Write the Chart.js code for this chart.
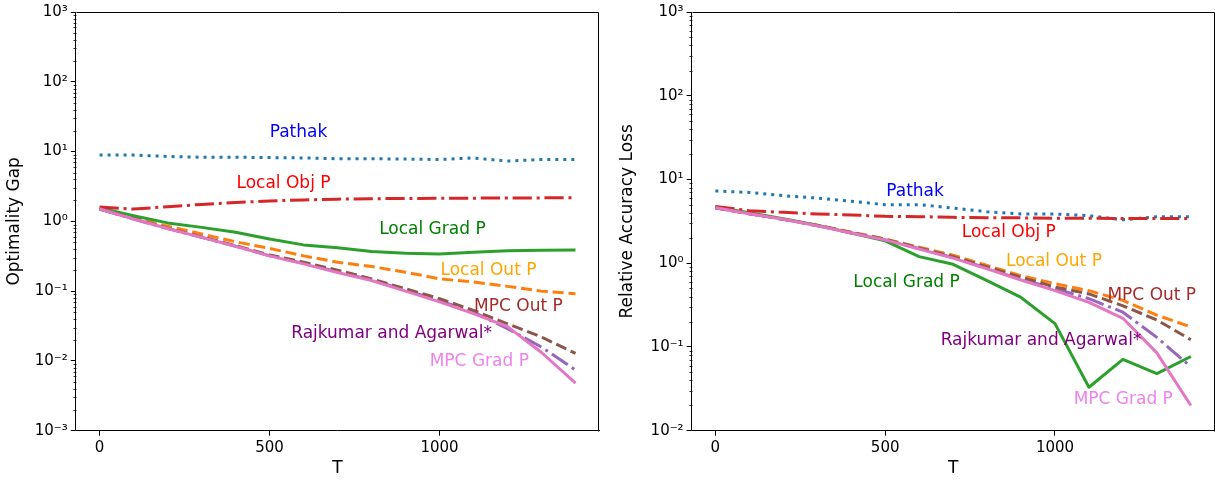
<!DOCTYPE html>
<html>
<head>
<meta charset="utf-8">
<title>Optimality gap and relative accuracy loss vs T</title>
<script src="https://cdn.jsdelivr.net/npm/chart.js@4.4.1/dist/chart.umd.min.js"></script>
<style>
  html, body { margin: 0; padding: 0; background: #fff; }
  #wrap { position: relative; width: 1215px; height: 483px; overflow: hidden; background: #fff; }
  .panel { position: absolute; top: 0; }
  canvas { display: block; }
</style>
</head>
<body>
<div id="wrap">
  <div class="panel" style="left:0px;"><canvas id="gap" width="607" height="483"></canvas></div>
  <div class="panel" style="left:600px;"><canvas id="loss" width="615" height="483"></canvas></div>
</div>
<script>
// Horizon lengths T at which every method was evaluated
const T = [0, 100, 200, 300, 400, 500, 600, 700, 800, 900, 1000, 1100, 1200, 1300, 1400];

// Optimality gap (left panel)
const gapPathak    = [8.9, 8.9, 8.5, 8.3, 8.3, 8.2, 8.1, 7.9, 7.9, 7.8, 7.7, 8.1, 7.3, 7.7, 7.7];
const gapLocalObj  = [1.6, 1.5, 1.62, 1.75, 1.86, 1.96, 2.03, 2.08, 2.11, 2.13, 2.14, 2.15, 2.16, 2.17, 2.18];
const gapLocalGrad = [1.55, 1.2, 0.95, 0.82, 0.70, 0.56, 0.46, 0.42, 0.37, 0.35, 0.34, 0.36, 0.38, 0.385, 0.39];
const gapLocalOut  = [1.5, 1.12, 0.85, 0.66, 0.51, 0.41, 0.32, 0.26, 0.225, 0.187, 0.15, 0.135, 0.117, 0.10, 0.092];
const gapMpcOut    = [1.5, 1.1, 0.80, 0.60, 0.45, 0.33, 0.26, 0.20, 0.15, 0.108, 0.078, 0.053, 0.034, 0.022, 0.0128];
const gapRajkumar  = [1.5, 1.08, 0.79, 0.59, 0.44, 0.32, 0.25, 0.19, 0.145, 0.103, 0.073, 0.050, 0.029, 0.0158, 0.0074];
const gapMpcGrad   = [1.5, 1.08, 0.79, 0.59, 0.44, 0.32, 0.246, 0.185, 0.142, 0.10, 0.070, 0.0475, 0.031, 0.0132, 0.0048];

// Relative accuracy loss (right panel)
const lossPathak    = [7.3, 7.0, 6.4, 6.0, 5.5, 5.0, 5.0, 4.56, 4.12, 3.87, 3.87, 3.7, 3.3, 3.6, 3.6];
const lossLocalObj  = [4.77, 4.24, 4.05, 3.87, 3.77, 3.63, 3.6, 3.53, 3.5, 3.48, 3.45, 3.45, 3.42, 3.42, 3.42];
const lossLocalGrad = [4.7, 4.0, 3.4, 2.85, 2.3, 1.85, 1.2, 0.97, 0.62, 0.39, 0.19, 0.033, 0.071, 0.048, 0.077];
const lossLocalOut  = [4.6, 3.9, 3.35, 2.85, 2.35, 1.95, 1.55, 1.25, 0.94, 0.71, 0.57, 0.47, 0.36, 0.24, 0.173];
const lossMpcOut    = [4.6, 3.9, 3.35, 2.83, 2.33, 1.93, 1.52, 1.2, 0.90, 0.68, 0.52, 0.43, 0.31, 0.21, 0.122];
const lossRajkumar  = [4.6, 3.9, 3.35, 2.8, 2.3, 1.9, 1.5, 1.17, 0.87, 0.64, 0.50, 0.377, 0.26, 0.13, 0.058];
const lossMpcGrad   = [4.6, 3.9, 3.35, 2.8, 2.3, 1.9, 1.48, 1.15, 0.86, 0.63, 0.47, 0.34, 0.22, 0.085, 0.02];

// Axis ticks
const xTicks = [0, 500, 1000];
const gapExponents  = [-3, -2, -1, 0, 1, 2, 3];
const lossExponents = [-2, -1, 0, 1, 2, 3];

// In-plot method labels, placed in data coordinates
const gapNotes = [
  { text: 'Pathak', t: 585, v: 18.5, color: 'blue' },
  { text: 'Local Obj P', t: 541, v: 3.46, color: 'red' },
  { text: 'Local Grad P', t: 979, v: 0.76, color: 'green' },
  { text: 'Local Out P', t: 1144, v: 0.198, color: 'orange' },
  { text: 'MPC Out P', t: 1232, v: 0.0604, color: 'brown' },
  { text: 'Rajkumar and Agarwal*', t: 859, v: 0.0249, color: 'purple' },
  { text: 'MPC Grad P', t: 1117, v: 0.00975, color: 'violet' }
];
const lossNotes = [
  { text: 'Pathak', t: 588, v: 7.2, color: 'blue' },
  { text: 'Local Obj P', t: 864, v: 2.34, color: 'red' },
  { text: 'Local Out P', t: 997, v: 1.057, color: 'orange' },
  { text: 'Local Grad P', t: 563, v: 0.594, color: 'green' },
  { text: 'MPC Out P', t: 1285, v: 0.412, color: 'brown' },
  { text: 'Rajkumar and Agarwal*', t: 959, v: 0.120, color: 'purple' },
  { text: 'MPC Grad P', t: 1201, v: 0.0237, color: 'violet' }
];

Chart.defaults.font.family = '"DejaVu Sans", sans-serif';
Chart.defaults.color = '#000';

const SUP = { '-': '\u207B', '0': '\u2070', '1': '\u00B9', '2': '\u00B2', '3': '\u00B3',
              '4': '\u2074', '5': '\u2075', '6': '\u2076', '7': '\u2077', '8': '\u2078', '9': '\u2079' };
function powLabel(value) {
  const e = Math.round(Math.log10(value));
  return '10' + String(e).split('').map(c => SUP[c]).join('');
}

// Series styling: colour, dash pattern and stacking order (lower order is drawn on top)
function makeDatasets(s) {
  const style = [
    { label: 'Pathak', data: s.pathak, color: '#1f77b4', dash: [3, 5], order: 6 },
    { label: 'Local Out P', data: s.localOut, color: '#ff7f0e', dash: [11.1, 4.8], order: 5 },
    { label: 'Local Grad P', data: s.localGrad, color: '#2ca02c', dash: [], order: 4 },
    { label: 'Local Obj P', data: s.localObj, color: '#d62728', dash: [19.2, 4.8, 3, 4.8], order: 3 },
    { label: 'Rajkumar and Agarwal*', data: s.rajkumar, color: '#9467bd', dash: [19.2, 4.8, 3, 4.8], order: 2 },
    { label: 'MPC Out P', data: s.mpcOut, color: '#8c564b', dash: [11.1, 4.8], order: 1 },
    { label: 'MPC Grad P', data: s.mpcGrad, color: '#e377c2', dash: [], order: 0 }
  ];
  return style.map(d => ({
    label: d.label,
    data: T.map((t, i) => ({ x: t, y: d.data[i] })),
    borderColor: d.color,
    backgroundColor: d.color,
    borderWidth: 3,
    borderDash: d.dash,
    borderJoinStyle: 'round',
    borderCapStyle: 'butt',
    pointRadius: 0,
    tension: 0,
    fill: false,
    order: d.order
  }));
}

// Frame, minor log ticks and in-plot labels
const decorPlugin = {
  id: 'decor',
  afterDatasetsDraw(chart, args, opts) {
    const { ctx, chartArea: a } = chart;
    const ys = chart.scales.y, xs = chart.scales.x;
    ctx.save();
    // top and right spines
    ctx.strokeStyle = '#000';
    ctx.lineWidth = 1;
    ctx.beginPath();
    ctx.moveTo(Math.round(a.left) + 0.5, Math.round(a.top) + 0.5);
    ctx.lineTo(Math.round(a.right) - 0.5, Math.round(a.top) + 0.5);
    ctx.lineTo(Math.round(a.right) - 0.5, Math.round(a.bottom) + 0.5);
    ctx.stroke();
    // minor ticks at 2..9 x 10^n
    ctx.lineWidth = 0.8;
    ctx.beginPath();
    const exps = opts.exponents;
    for (let i = 0; i < exps.length - 1; i++) {
      for (let k = 2; k <= 9; k++) {
        const py = Math.round(ys.getPixelForValue(k * Math.pow(10, exps[i]))) + 0.5;
        ctx.moveTo(Math.round(a.left) + 0.5, py);
        ctx.lineTo(Math.round(a.left) + 0.5 - 3, py);
      }
    }
    ctx.stroke();
    // method labels
    ctx.font = '17px "DejaVu Sans"';
    ctx.textAlign = 'center';
    ctx.textBaseline = 'middle';
    opts.notes.forEach(n => {
      ctx.fillStyle = n.color;
      ctx.fillText(n.text, xs.getPixelForValue(n.t), ys.getPixelForValue(n.v));
    });
    ctx.restore();
  }
};

function makeChart(id, cfg) {
  const canvas = document.getElementById(id);
  const W = canvas.width, H = canvas.height;
  const tickFont = { size: 15 };
  const titleFont = { size: 17 };
  const grid = { display: true, drawOnChartArea: false, drawTicks: true, tickLength: 5, tickColor: '#000', tickWidth: 1 };
  const border = { display: true, color: '#000', width: 1 };
  return new Chart(canvas, {
    type: 'line',
    data: { datasets: makeDatasets(cfg.series) },
    options: {
      responsive: false,
      devicePixelRatio: 1,
      animation: false,
      events: [],
      layout: { padding: { left: 0, top: cfg.top, right: W - cfg.plotRight, bottom: 0 } },
      plugins: {
        legend: { display: false },
        tooltip: { enabled: false },
        decor: { exponents: cfg.exponents, notes: cfg.notes }
      },
      scales: {
        x: {
          type: 'linear', position: 'bottom', min: -70, max: 1470,
          afterBuildTicks: s => { s.ticks = xTicks.map(v => ({ value: v })); },
          afterFit: s => { s.height = H - cfg.plotBottom; },
          ticks: { font: tickFont, color: '#000', padding: 3, maxRotation: 0, autoSkip: false, callback: v => String(v) },
          grid: grid, border: border,
          title: { display: true, text: 'T', font: titleFont, color: '#000', padding: { top: 0, bottom: 4 } }
        },
        y: {
          type: 'logarithmic', position: 'left',
          min: Math.pow(10, cfg.exponents[0]), max: Math.pow(10, cfg.exponents[cfg.exponents.length - 1]),
          afterBuildTicks: s => { s.ticks = cfg.exponents.map(e => ({ value: Math.pow(10, e) })); },
          afterFit: s => { s.width = cfg.plotLeft; },
          ticks: { font: tickFont, color: '#000', padding: 3, autoSkip: false, callback: v => powLabel(v) },
          grid: grid, border: border,
          title: { display: true, text: cfg.yTitle, font: titleFont, color: '#000', padding: { top: cfg.titlePad, bottom: 0 } }
        }
      }
    },
    plugins: [decorPlugin]
  });
}

makeChart('gap', {
  series: { pathak: gapPathak, localObj: gapLocalObj, localGrad: gapLocalGrad, localOut: gapLocalOut,
            mpcOut: gapMpcOut, rajkumar: gapRajkumar, mpcGrad: gapMpcGrad },
  exponents: gapExponents, notes: gapNotes, yTitle: 'Optimality Gap',
  plotLeft: 75.8, plotRight: 599.3, top: 11, plotBottom: 430.7, titlePad: 4
});

makeChart('loss', {
  series: { pathak: lossPathak, localObj: lossLocalObj, localGrad: lossLocalGrad, localOut: lossLocalOut,
            mpcOut: lossMpcOut, rajkumar: lossRajkumar, mpcGrad: lossMpcGrad },
  exponents: lossExponents, notes: lossNotes, yTitle: 'Relative Accuracy Loss',
  plotLeft: 91.6, plotRight: 614.6, top: 11, plotBottom: 430.7, titlePad: 17
});
</script>
</body>
</html>
